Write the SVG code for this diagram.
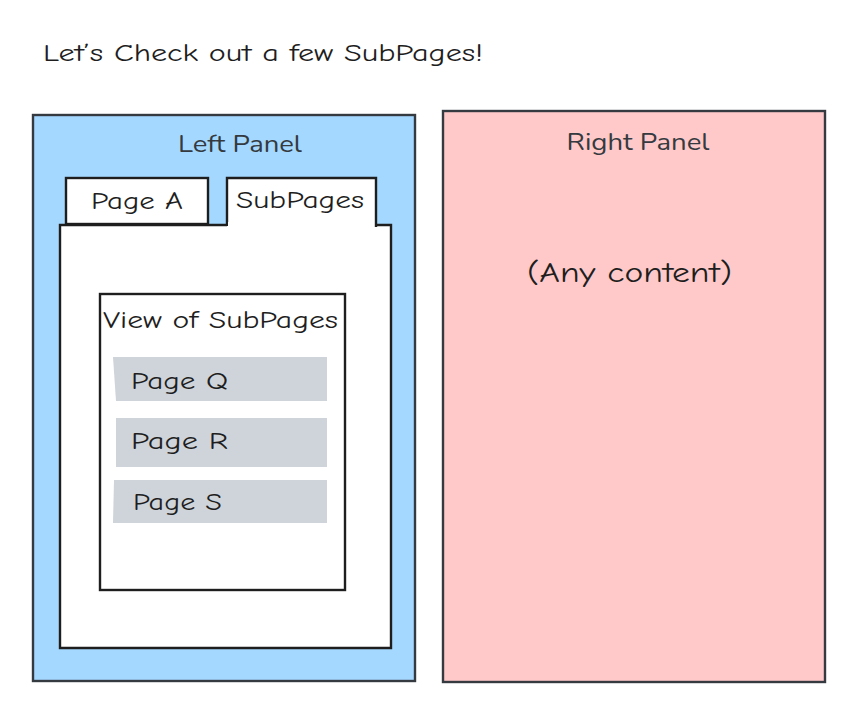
<svg xmlns="http://www.w3.org/2000/svg" width="856" height="704" viewBox="0 0 856 704">
<style>
.hand{font-family:"Comic Neue","DejaVu Sans","Liberation Sans",sans-serif;fill:#1e1e1e}
.nun{font-family:"Nunito","Open Sans","Liberation Sans",sans-serif;fill:#343a40}
.panel{stroke:#343a40;stroke-width:2.4}
.blk{fill:#fff;stroke:#1e1e1e;stroke-width:2.4}
.row{fill:#ced4da;stroke:none}
</style>
<rect width="856" height="704" fill="#fff"/>
<text class="hand" x="43" y="61" font-size="24" textLength="440" lengthAdjust="spacingAndGlyphs">Let’s Check out a few SubPages!</text>
<g id="left-panel">
<rect class="panel" x="33" y="115" width="382" height="566" fill="#a5d8ff"/>
<text class="nun" x="240" y="152" font-size="23" text-anchor="middle" textLength="124" lengthAdjust="spacingAndGlyphs">Left Panel</text>
</g>
<g id="right-panel">
<rect class="panel" x="443" y="111" width="382" height="571" fill="#ffc9c9"/>
<text class="nun" x="638" y="150" font-size="23" text-anchor="middle" textLength="143" lengthAdjust="spacingAndGlyphs">Right Panel</text>
<text class="hand" x="527" y="282" font-size="28" textLength="205" lengthAdjust="spacingAndGlyphs">(Any content)</text>
</g>
<g id="tab-page-a">
<rect class="blk" x="66" y="178" width="142" height="46"/>
<text class="hand" x="91" y="209" font-size="25" textLength="92" lengthAdjust="spacingAndGlyphs">Page A</text>
</g>
<g id="content">
<path class="blk" d="M60 225 H391 V648 H60 Z"/>
</g>
<g id="tab-subpages">
<path d="M227 178 H376 V228 H227 Z" fill="#fff"/>
<path d="M227 226 V178 H376 V227" fill="none" stroke="#1e1e1e" stroke-width="2.4"/>
<rect x="228" y="222" width="146" height="8" fill="#fff"/>
<text class="hand" x="236" y="208" font-size="25" textLength="128" lengthAdjust="spacingAndGlyphs">SubPages</text>
</g>
<g id="view-of-subpages">
<rect class="blk" x="100" y="294" width="245" height="296"/>
<text class="hand" x="103" y="328" font-size="25" textLength="235" lengthAdjust="spacingAndGlyphs">View of SubPages</text>
</g>
<g id="page-q">
<path class="row" d="M113 357 H327 V401 H116 Z"/>
<text class="hand" x="131" y="389" font-size="25" textLength="97" lengthAdjust="spacingAndGlyphs">Page Q</text>
</g>
<g id="page-r">
<rect class="row" x="116" y="418" width="211" height="49"/>
<text class="hand" x="131" y="449" font-size="25" textLength="97" lengthAdjust="spacingAndGlyphs">Page R</text>
</g>
<g id="page-s">
<path class="row" d="M114 480 H327 V523 H113 Z"/>
<text class="hand" x="133" y="510" font-size="25" textLength="89" lengthAdjust="spacingAndGlyphs">Page S</text>
</g>
<g id="connectors"></g>
</svg>
